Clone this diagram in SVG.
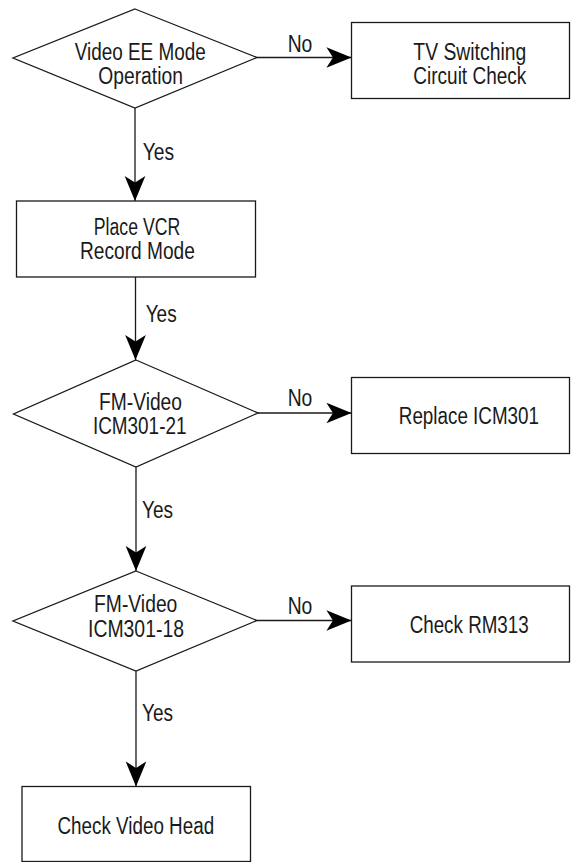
<svg xmlns="http://www.w3.org/2000/svg" width="571" height="862" viewBox="0 0 571 862">
<style>
.shape{fill:#fff;stroke:#1a1a1a;stroke-width:1.3}
.conn{fill:none;stroke:#1a1a1a;stroke-width:1.3}
text{font-family:"Liberation Sans Narrow","Liberation Sans",Arial,sans-serif;font-size:23px;fill:#1a1a1a}
.c{text-anchor:middle}
</style>
<defs>
<marker id="arr" markerUnits="userSpaceOnUse" markerWidth="30" markerHeight="24" viewBox="-24 -11 26 22" refX="0" refY="0" orient="auto">
<path d="M0,0 L-23,-9.5 L-17,0 L-23,9.5 Z" fill="#000"/>
</marker>
</defs>
<g id="connectors">
<path class="conn" d="M257,57.5 H351.5" marker-end="url(#arr)"/>
<path class="conn" d="M135,108 V201" marker-end="url(#arr)"/>
<path class="conn" d="M135.5,277 V360" marker-end="url(#arr)"/>
<path class="conn" d="M258,413 H351.5" marker-end="url(#arr)"/>
<path class="conn" d="M136,467 V571" marker-end="url(#arr)"/>
<path class="conn" d="M257,620.5 H351.5" marker-end="url(#arr)"/>
<path class="conn" d="M136,671 V786.5" marker-end="url(#arr)"/>
<text x="300" y="51.7" class="c" textLength="24.7" lengthAdjust="spacingAndGlyphs">No</text>
<text x="142.7" y="160" textLength="31.3" lengthAdjust="spacingAndGlyphs">Yes</text>
<text x="145.7" y="321.7" textLength="31" lengthAdjust="spacingAndGlyphs">Yes</text>
<text x="300" y="406" class="c" textLength="24.7" lengthAdjust="spacingAndGlyphs">No</text>
<text x="142" y="518.3" textLength="31" lengthAdjust="spacingAndGlyphs">Yes</text>
<text x="300" y="614.3" class="c" textLength="24.7" lengthAdjust="spacingAndGlyphs">No</text>
<text x="142" y="721" textLength="31" lengthAdjust="spacingAndGlyphs">Yes</text>
</g>
<g id="d1">
<polygon class="shape" points="135,9 257,57.5 135,108 13,58"/>
<text x="140.2" y="60" class="c" textLength="131" lengthAdjust="spacingAndGlyphs">Video EE Mode</text>
<text x="140.6" y="84.3" class="c" textLength="84.5" lengthAdjust="spacingAndGlyphs">Operation</text>
</g>
<g id="tv">
<rect class="shape" x="351.5" y="22.5" width="218" height="76"/>
<text x="469.8" y="60" class="c" textLength="112.9" lengthAdjust="spacingAndGlyphs">TV Switching</text>
<text x="469.8" y="84.3" class="c" textLength="112.9" lengthAdjust="spacingAndGlyphs">Circuit Check</text>
</g>
<g id="vcr">
<rect class="shape" x="16.5" y="201" width="239" height="76"/>
<text x="137" y="235" class="c" textLength="86.3" lengthAdjust="spacingAndGlyphs">Place VCR</text>
<text x="137.4" y="259.3" class="c" textLength="114.8" lengthAdjust="spacingAndGlyphs">Record Mode</text>
</g>
<g id="d2">
<polygon class="shape" points="136,360 258,413 136,467 13.5,414"/>
<text x="140.5" y="410" class="c" textLength="83" lengthAdjust="spacingAndGlyphs">FM-Video</text>
<text x="139.7" y="434.3" class="c" textLength="93.6" lengthAdjust="spacingAndGlyphs">ICM301-21</text>
</g>
<g id="replace">
<rect class="shape" x="351.5" y="377.5" width="218" height="76"/>
<text x="468.9" y="424" class="c" textLength="140.2" lengthAdjust="spacingAndGlyphs">Replace ICM301</text>
</g>
<g id="d3">
<polygon class="shape" points="136,571 257,620.5 136,671 13,621"/>
<text x="135.7" y="611.7" class="c" textLength="83.3" lengthAdjust="spacingAndGlyphs">FM-Video</text>
<text x="136" y="636.7" class="c" textLength="96" lengthAdjust="spacingAndGlyphs">ICM301-18</text>
</g>
<g id="rm313">
<rect class="shape" x="351.5" y="586" width="218" height="76"/>
<text x="469.2" y="632.7" class="c" textLength="119.1" lengthAdjust="spacingAndGlyphs">Check RM313</text>
</g>
<g id="head">
<rect class="shape" x="22" y="786.5" width="228.5" height="75"/>
<text x="135.8" y="834" class="c" textLength="156.6" lengthAdjust="spacingAndGlyphs">Check Video Head</text>
</g>
</svg>
